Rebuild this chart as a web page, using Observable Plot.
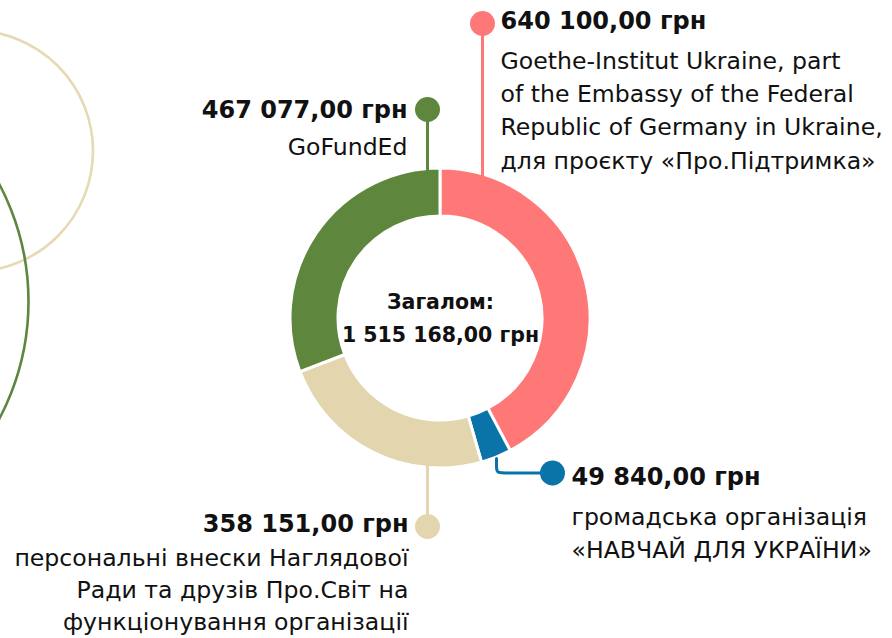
<!DOCTYPE html>
<html>
<head>
<meta charset="utf-8">
<script src="https://cdn.jsdelivr.net/npm/d3@7"></script>
<script src="https://cdn.jsdelivr.net/npm/@observablehq/plot@0.6"></script>
<style>
  html, body { margin: 0; padding: 0; background: #ffffff; }
  #chart svg { display: block; }
</style>
</head>
<body>
<div id="chart"></div>
<script>
// ---- Data ----
const categories = ["goethe", "navchai", "rada", "gofunded"];
const amounts = [640100, 49840, 358151, 467077];
const amountLabels = ["640 100,00 грн", "49 840,00 грн", "358 151,00 грн", "467 077,00 грн"];
const descriptions = [
  "Goethe-Institut Ukraine, part\nof the Embassy of the Federal\nRepublic of Germany in Ukraine,\nдля проєкту «Про.Підтримка»",
  "громадська організація\n«НАВЧАЙ ДЛЯ УКРАЇНИ»",
  "персональні внески Наглядової\nРади та друзів Про.Світ на\nфункціонування організації",
  "GoFundEd"
];
const totalLabel = ["Загалом:", "1 515 168,00 грн"];
const colors = ["#FF7878", "#0A73A8", "#E3D6AF", "#5E873D"];

// ---- Layout (pixel space) ----
const W = 892, H = 638;
const center = {x: 440, y: 318};
const outerR = 150, innerR = 102;
const FONT = "'DejaVu Sans', sans-serif";

const layout = {
  goethe:   {dot: [482, 23],  path: [[482, 23], [482, 178]], side: "start", ax: 500, ay: 21, dy: 107.5, lh: 1.41},
  navchai:  {dot: [552, 472.5], path: [[496, 458], [496, 466], [496, 472.5], [505, 472.5], [552, 472.5]], side: "start", ax: 571, ay: 477, dy: 530, lh: 1.41},
  rada:     {dot: [427, 526], path: [[427, 526], [427, 462]], side: "end", ax: 408, ay: 524, dy: 587, lh: 1.36},
  gofunded: {dot: [427, 109], path: [[427, 109], [427, 172]], side: "end", ax: 407, ay: 110, dy: 144, lh: 1.41}
};

const rows = categories.map((c, i) => ({
  cat: c, amount: amounts[i], amountLabel: amountLabels[i], desc: descriptions[i], ...layout[c]
}));

const leaderPts = rows.flatMap(r => r.path.map(([x, y]) => ({cat: r.cat, x, y})));

// donut slices drawn through Plot's scales
const donut = (index, scales) => {
  const sx = scales.x, sy = scales.y;
  const col = scales.color || ((c) => colors[categories.indexOf(c)]);
  const pie = d3.pie().sort(null).value(d => d.amount)(rows);
  const arc = d3.arc().innerRadius(innerR).outerRadius(outerR);
  const g = d3.create("svg:g").attr("transform", `translate(${sx(center.x)},${sy(center.y)})`);
  g.selectAll("path").data(pie).join("path")
    .attr("d", arc)
    .attr("fill", d => col(d.data.cat))
    .attr("stroke", "#ffffff")
    .attr("stroke-width", 3)
    .attr("stroke-linejoin", "miter");
  return g.node();
};

const AMT = 24, DESC = 23.6;

const descMarks = rows.map(r =>
  Plot.text([r], {x: "ax", y: "dy", text: "desc", textAnchor: r.side, lineAnchor: "middle", fontSize: DESC, lineHeight: r.lh, fill: "#111"})
);
const amtMarks = rows.map(r =>
  Plot.text([r], {x: "ax", y: "ay", text: "amountLabel", textAnchor: r.side, lineAnchor: "middle", fontSize: AMT, fontWeight: "bold", fill: "#111"})
);

const plot = Plot.plot({
  width: W,
  height: H,
  margin: 0,
  x: {domain: [0, W], range: [0, W], axis: null},
  y: {domain: [0, H], range: [0, H], axis: null},
  color: {domain: categories, range: colors},
  style: {background: "#ffffff", fontFamily: FONT},
  marks: [
    Plot.dot([{x: -28, y: 150.5}], {x: "x", y: "y", r: 120.5, stroke: "#E6DAB5", strokeWidth: 2.6, fill: "none"}),
    Plot.dot([{x: -222, y: 301}], {x: "x", y: "y", r: 250, stroke: "#5E873D", strokeWidth: 2.6, fill: "none"}),
    donut,
    Plot.line(leaderPts, {x: "x", y: "y", z: "cat", stroke: "cat", strokeWidth: 3, curve: "basis"}),
    Plot.dot(rows, {x: d => d.dot[0], y: d => d.dot[1], fill: "cat", r: 12.5}),
    ...amtMarks,
    ...descMarks,
    Plot.text([totalLabel.join("\n")], {x: () => center.x, y: () => center.y - 4, text: d => d, textAnchor: "middle", lineAnchor: "middle", fontSize: 20.5, fontWeight: "bold", lineHeight: 1.63, fill: "#111"})
  ]
});

document.getElementById("chart").appendChild(plot);
</script>
</body>
</html>
